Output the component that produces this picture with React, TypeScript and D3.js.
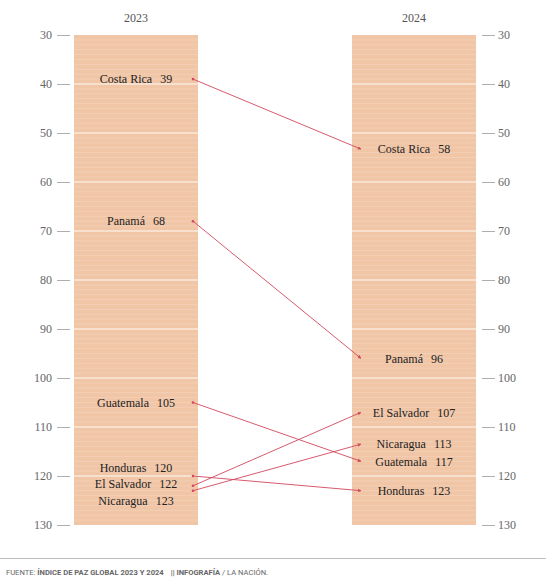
import { useEffect, useRef } from 'react';
import * as d3 from 'd3';

const countries = ['Costa Rica', 'Panamá', 'Guatemala', 'Honduras', 'El Salvador', 'Nicaragua'];
const rank2023 = [39, 68, 105, 120, 122, 123];
const rank2024 = [58, 96, 117, 123, 107, 113];
// where the original drew each 2024 point (Costa Rica sits higher than its rank)
const placed2024 = [53.3, 96, 117, 123, 107, 113.5];
const years = ['2023', '2024'];
const ticks = [30, 40, 50, 60, 70, 80, 90, 100, 110, 120, 130];

const W = 554;
const H = 584;
const serif = '"Liberation Serif", "DejaVu Serif", serif';

// spread labels that would overlap, keeping each cluster centred on its mean
function spread(ys: number[], gap: number): number[] {
  const order = ys.map((y, i) => ({ y, i })).sort((a, b) => a.y - b.y);
  let groups = order.map((o) => ({ items: [o], top: o.y }));
  let moved = true;
  while (moved) {
    moved = false;
    groups.forEach((g) => {
      const mean = d3.mean(g.items, (d) => d.y)!;
      g.top = mean - ((g.items.length - 1) * gap) / 2;
    });
    for (let k = 0; k < groups.length - 1; k++) {
      const a = groups[k];
      const b = groups[k + 1];
      if (a.top + (a.items.length - 1) * gap + gap > b.top) {
        groups.splice(k, 2, { items: a.items.concat(b.items), top: 0 });
        moved = true;
        break;
      }
    }
  }
  const out = new Array(ys.length);
  groups.forEach((g) => g.items.forEach((it, j) => (out[it.i] = g.top + j * gap)));
  return out;
}

export default function App() {
  const ref = useRef<SVGSVGElement>(null);

  useEffect(() => {
    if (!ref.current) return;
    const svg = d3.select(ref.current);
    svg.selectAll('*').remove();

    const y = d3.scaleLinear().domain([30, 130]).range([35, 525]);
    const x = d3.scaleBand().domain(years).range([74, 476]).paddingInner(0.554);
    const bw = x.bandwidth();

    const defs = svg.append('defs');
    defs
      .append('marker')
      .attr('id', 'tip')
      .attr('viewBox', '0 0 10 10')
      .attr('refX', 9)
      .attr('refY', 5)
      .attr('markerWidth', 4)
      .attr('markerHeight', 4)
      .attr('orient', 'auto')
      .append('path')
      .attr('d', 'M0,0 L10,5 L0,10 z')
      .attr('fill', '#d1475e');

    // columns
    years.forEach((yr) => {
      const x0 = x(yr)!;
      svg
        .append('rect')
        .attr('x', x0)
        .attr('y', y(30))
        .attr('width', bw)
        .attr('height', y(130) - y(30))
        .attr('fill', '#f1c6a7');

      svg
        .append('g')
        .selectAll('line')
        .data(d3.range(31, 130))
        .join('line')
        .attr('x1', x0)
        .attr('x2', x0 + bw)
        .attr('y1', (d) => y(d))
        .attr('y2', (d) => y(d))
        .attr('stroke', '#fff')
        .attr('stroke-opacity', (d) => (d % 10 === 0 ? 0.9 : 0.2))
        .attr('stroke-width', (d) => (d % 10 === 0 ? 1.2 : 0.8));

      svg
        .append('text')
        .attr('x', x0 + bw / 2)
        .attr('y', 22)
        .attr('text-anchor', 'middle')
        .attr('font-family', serif)
        .attr('font-size', 12)
        .attr('fill', '#555')
        .text(yr);
    });

    // axes
    const left = svg.append('g').attr('transform', 'translate(70,0)');
    left
      .call(d3.axisLeft(y).tickValues(ticks).tickSize(13).tickPadding(5))
      .call((g) => g.select('.domain').remove());
    const right = svg.append('g').attr('transform', 'translate(482,0)');
    right
      .call(d3.axisRight(y).tickValues(ticks).tickSize(13).tickPadding(3))
      .call((g) => g.select('.domain').remove());
    [left, right].forEach((g) => {
      g.selectAll('.tick line').attr('stroke', '#999').attr('stroke-width', 0.8);
      g.selectAll('.tick text')
        .attr('fill', '#666')
        .attr('font-family', serif)
        .attr('font-size', 12);
    });

    // slope lines
    const xa = x('2023')! + bw - 5;
    const xb = x('2024')! + 9;
    svg
      .append('g')
      .selectAll('line')
      .data(countries)
      .join('line')
      .attr('x1', xa)
      .attr('y1', (_, i) => y(rank2023[i]))
      .attr('x2', xb)
      .attr('y2', (_, i) => y(placed2024[i]))
      .attr('stroke', '#d1475e')
      .attr('stroke-width', 0.9)
      .attr('marker-end', 'url(#tip)');
    svg
      .append('g')
      .selectAll('circle')
      .data(countries)
      .join('circle')
      .attr('cx', xa)
      .attr('cy', (_, i) => y(rank2023[i]))
      .attr('r', 1.3)
      .attr('fill', '#d1475e');

    // labels
    const drawLabels = (yr: string, ranks: number[], pos: number[]) => {
      const ys = spread(pos.map((v) => y(v)), 16.5);
      const t = svg
        .append('g')
        .selectAll('text')
        .data(countries)
        .join('text')
        .attr('x', x(yr)! + bw / 2)
        .attr('y', (_, i) => ys[i])
        .attr('dy', '0.35em')
        .attr('text-anchor', 'middle')
        .attr('font-family', serif)
        .attr('font-size', 12)
        .attr('fill', '#222');
      t.append('tspan').text((d) => d);
      t.append('tspan')
        .attr('dx', 8)
        .text((_, i) => String(ranks[i]));
    };
    drawLabels('2023', rank2023, rank2023);
    drawLabels('2024', rank2024, placed2024);

    // footer
    svg
      .append('line')
      .attr('x1', 0)
      .attr('x2', 546)
      .attr('y1', 558.5)
      .attr('y2', 558.5)
      .attr('stroke', '#bbb');
    const foot = svg
      .append('text')
      .attr('x', 6)
      .attr('y', 575)
      .attr('font-family', '"Liberation Sans Narrow", Roboto, sans-serif')
      .attr('font-size', 7.6)
      .attr('fill', '#666');
    foot.append('tspan').text('FUENTE: ');
    foot.append('tspan').attr('font-weight', 'bold').text('ÍNDICE DE PAZ GLOBAL 2023 Y 2024');
    foot.append('tspan').attr('dx', 7).attr('font-weight', 'bold').text('|| INFOGRAFÍA');
    foot.append('tspan').text(' / LA NACIÓN.');
  }, []);

  return (
    <div style={{ position: 'absolute', left: 0, top: 0, width: W, height: H, background: '#fff' }}>
      <svg ref={ref} width={W} height={H} />
    </div>
  );
}
